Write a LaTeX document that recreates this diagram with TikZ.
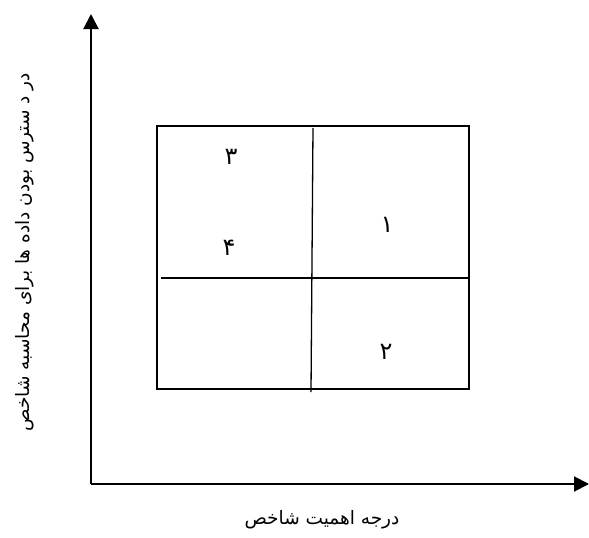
\documentclass[tikz,border=0pt]{standalone}
\usepackage{fontspec}
\newfontfamily\fa[Script=Arabic]{DejaVu Sans}
\TeXXeTstate=1
\usetikzlibrary{arrows.meta}
\tikzset{
  axis/.style={line width=2pt,-{Triangle[length=15pt,width=15pt]}},
  frame/.style={draw,line width=1.3pt,minimum width=312pt,minimum height=263pt,inner sep=0pt},
  divider/.style={line width=1.3pt},
  lbl/.style={font=\fa\fontsize{18.5}{22}\selectfont,inner sep=0pt},
  digit/.style={font=\fa\fontsize{24}{28}\selectfont,inner sep=0pt}
}
\begin{document}
\begin{tikzpicture}[x=1pt,y=-1pt]
\useasboundingbox (0,0) rectangle (589,538);
\coordinate (o) at (91,484);
\coordinate (ytip) at (91,14);
\coordinate (xtip) at (589,484);
\draw[axis] (o) -- (ytip);
\draw[axis] (o) -- (xtip);
\node[frame] (box) at (313,257.5) {};
\coordinate (vt) at (313,128);
\coordinate (vb) at (311,392);
\coordinate (hl) at (161,278);
\coordinate (hr) at (box.east |- hl);
\draw[divider] (vt) -- (vb);
\draw[divider] (hl) -- (hr);
\node[digit] (d3) at (231,157) {\beginR ۳\endR};
\node[digit] (d4) at (229,248) {\beginR ۴\endR};
\node[digit] (d1) at (387,225) {\beginR ۱\endR};
\node[digit] (d2) at (386,352) {\beginR ۲\endR};
\node[lbl] (xl) at (322,520) {\beginR درجه اهمیت شاخص\endR};
\node[lbl,rotate=90] (yl) at (25,252) {\beginR در د سترس بودن داده ها برای محاسبه شاخص\endR};
\end{tikzpicture}
\end{document}
